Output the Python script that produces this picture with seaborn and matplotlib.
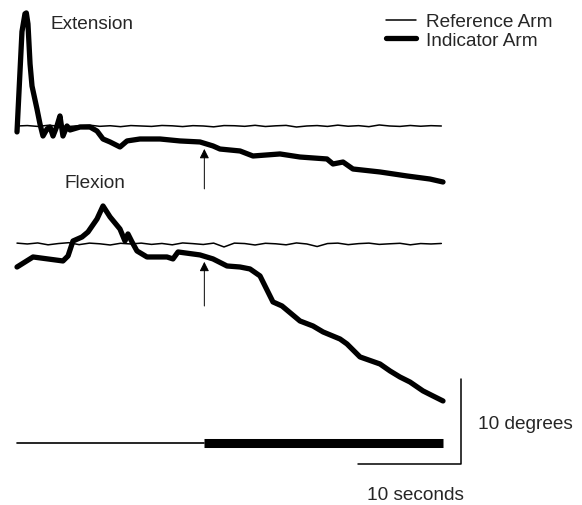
import numpy as np
import matplotlib.pyplot as plt
import seaborn as sns
from matplotlib.lines import Line2D

# trace data: time (s) and angle (degrees, relative to each reference arm)
ext_t = [0, 0.48, 0.77, 0.9, 1.06, 1.26, 1.45, 1.93, 2.22, 2.51, 2.9, 3.19, 3.48,
         3.86, 4.15, 4.44, 4.83, 5.12, 6.09, 7.05, 7.73, 8.31, 8.99, 9.95, 10.63,
         11.88, 13.82, 15.75, 17.68, 18.94, 19.61, 21.55, 22.8, 25.41, 27.34,
         29.95, 30.53, 31.5, 32.46, 35.07, 37.68, 39.9, 41.16]
ext_deg = [-0.7, 11.1, 13.2, 13.3, 12.0, 7.3, 4.7, 2.0, 0.24, -1.18, -0.35, -0.12,
           -1.18, 0, 1.18, -1.18, 0, -0.47, -0.12, -0.12, -0.59, -1.53, -1.88,
           -2.47, -1.76, -1.53, -1.53, -1.76, -1.88, -2.35, -2.71, -2.94, -3.53,
           -3.29, -3.65, -3.88, -4.47, -4.24, -5.06, -5.41, -5.88, -6.24, -6.59]

flx_t = [0, 1.55, 4.44, 4.93, 5.41, 6.28, 6.86, 7.73, 8.31, 8.99, 9.95, 10.43,
         10.72, 11.11, 11.59, 12.56, 14.49, 15.07, 15.56, 17.68, 18.94, 20.29,
         21.55, 22.51, 23.48, 24.73, 25.6, 27.34, 28.6, 29.57, 31.21, 31.88,
         33.14, 35.07, 36.04, 37.0, 37.97, 39.23, 40.19, 41.16]
flx_deg = [-2.71, -1.53, -2.0, -1.41, 0.35, 0.82, 1.41, 2.94, 4.47, 3.18, 1.76,
           0.35, 1.18, 0.24, -0.82, -1.53, -1.53, -1.76, -0.94, -1.29, -1.76,
           -2.59, -2.71, -2.94, -3.76, -6.82, -7.29, -9.06, -9.65, -10.35,
           -11.18, -11.76, -13.29, -14.12, -14.94, -15.65, -16.24, -17.29,
           -17.88, -18.47]

ref_t = list(range(0, 42))
ext_ref = [0, 0.05, -0.05, 0.08, 0, -0.06, 0.04, 0.1, -0.04, 0.03, -0.08, 0.05,
           0, -0.05, 0.06, 0.02, -0.07, 0.04, 0, -0.1, 0.05, 0.03, -0.04, 0.08,
           -0.06, 0.02, 0.07, -0.12, 0, 0.05, -0.05, 0.1, -0.03, 0.04, -0.08,
           0.12, 0, -0.05, 0.06, -0.03, 0.04, 0]
flx_ref = [0.1, 0, 0.12, -0.1, 0.05, 0.15, -0.08, 0.1, 0.02, -0.12, 0.08, 0,
           0.1, -0.05, 0.06, -0.1, 0.12, 0.04, -0.06, 0.1, -0.35, 0.1, 0.05,
           -0.12, 0.08, 0.02, -0.1, 0.12, 0, -0.3, 0.05, 0.1, -0.08, 0.04, 0.1,
           -0.05, 0.02, 0.08, -0.1, 0.05, 0, 0.06]

arrow_t = 18.1        # moment the indicator arm starts to move
trial_end = 41.16
flx_offset = -13.88   # flexion traces drawn below the extension traces
bar_y = -37.3

sns.set_theme(style='white')
plt.rcParams['font.family'] = ['Liberation Sans', 'DejaVu Sans']

fig = plt.figure(figsize=(5.82, 5.06), dpi=100)
ax = fig.add_axes([0, 0, 1, 1])
ax.set_xlim(-1.643, 54.59)
ax.set_ylim(-44.59, 14.94)
ax.axis('off')

thin, thick = 1.1, 3.8
fs = 13.7

# extension
sns.lineplot(x=ref_t, y=ext_ref, ax=ax, color='black', lw=thin)
sns.lineplot(x=ext_t, y=ext_deg, ax=ax, color='black', lw=thick,
             estimator=None, sort=False)
# flexion
sns.lineplot(x=ref_t, y=np.array(flx_ref) + flx_offset, ax=ax, color='black', lw=thin)
sns.lineplot(x=flx_t, y=np.array(flx_deg) + flx_offset, ax=ax, color='black', lw=thick,
             estimator=None, sort=False)

# arrows marking the start of movement
for tip, tail in [(-2.7, -7.4), (flx_offset - 2.1, flx_offset - 7.3)]:
    ax.annotate('', xy=(arrow_t, tip), xytext=(arrow_t, tail),
                arrowprops=dict(arrowstyle='-|>', color='black', lw=0.7,
                                mutation_scale=14, shrinkA=0, shrinkB=0))

# timing bar
ax.plot([0, arrow_t], [bar_y, bar_y], color='black', lw=1.2)
ax.plot([arrow_t, trial_end], [bar_y, bar_y], color='black', lw=6.5,
        solid_capstyle='butt')

# scale bars: 10 s and 10 degrees
sx, sy = 42.9, -39.76
ax.plot([sx - 10, sx, sx], [sy, sy, sy + 10], color='black', lw=1.1)
ax.text(sx + 1.64, sy + 4.7, '10 degrees', fontsize=fs, ha='left', va='center')
ax.text(38.45, -43.4, '10 seconds', fontsize=fs, ha='center', va='center')

ax.text(3.2, 12.1, 'Extension', fontsize=fs, ha='left', va='center')
ax.text(4.6, -6.6, 'Flexion', fontsize=fs, ha='left', va='center')

handles = [Line2D([], [], color='black', lw=thin),
           Line2D([], [], color='black', lw=thick)]
ax.legend(handles, ['Reference Arm', 'Indicator Arm'], loc='upper left',
          bbox_to_anchor=(386 / 582, 1 - 14 / 506), frameon=False,
          fontsize=fs, borderpad=0, borderaxespad=0, handlelength=1.6,
          handletextpad=0.5, labelspacing=0.05)

plt.savefig('out.png', dpi=100)
